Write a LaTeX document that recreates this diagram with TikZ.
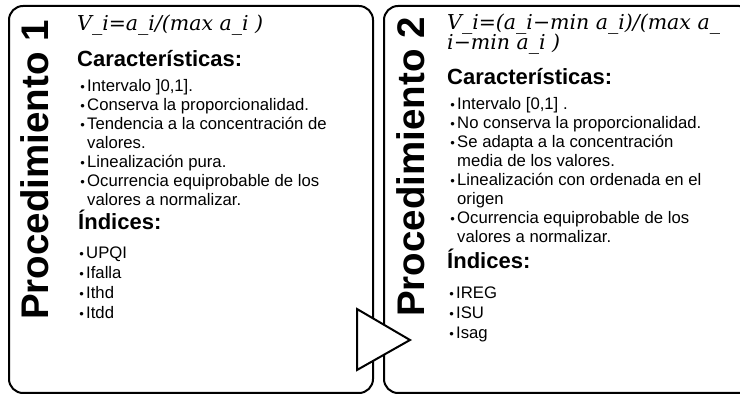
\documentclass[tikz,border=0pt]{standalone}
\usepackage{fontspec}
\setmainfont{Liberation Sans}
\newfontfamily\fser{DejaVu Serif}
\newcommand{\bul}{\llap{\fontsize{13}{13}\selectfont\raisebox{0.3pt}{•}\hspace{2.2pt}}}
\begin{document}
\begin{tikzpicture}[x=1pt,y=-1pt,
  box/.style={draw=black, line width=2pt, rounded corners=14pt},
  vtitle/.style={font=\fontsize{38.5}{38.5}\selectfont\bfseries, rotate=90, anchor=base west, inner sep=0pt},
  formula/.style={font=\fser\itshape\fontsize{20.5}{20.5}\selectfont, anchor=base west, inner sep=0pt},
  head/.style={font=\fontsize{22}{22}\selectfont\bfseries, anchor=base west, inner sep=0pt},
  item/.style={font=\fontsize{16.7}{16.7}\selectfont, anchor=base west, inner sep=0pt},
]
\useasboundingbox (0,0) rectangle (740,395);
\node[box, anchor=north west, minimum width=364pt, minimum height=387pt, inner sep=0pt] (p1) at (8,5) {};
\node[box, anchor=north west, minimum width=369pt, minimum height=387pt, inner sep=0pt] (p2) at (383,5) {};
\draw[draw=black, line width=2pt, fill=white, line join=miter] (357,309) -- (357,370) -- (410,340) -- cycle;
% titles
\node[vtitle] (t1) at (48,320) {Procedimiento 1};
\node[vtitle] (t2) at (424,317) {Procedimiento 2};
% box 1
\node[formula] (f1) at (77,31) {V\_i=a\_i/(max a\_i )};
\node[head] (c1) at (77,67) {Características:};
\node[item] (a1) at (87,92) {\bul Intervalo ]0,1].};
\node[item] (a2) at (87,111) {\bul Conserva la proporcionalidad.};
\node[item] (a3) at (87,130) {\bul Tendencia a la concentración de};
\node[item] (a4) at (87,149) {valores.};
\node[item] (a5) at (87,168) {\bul Linealización pura.};
\node[item] (a6) at (87,187) {\bul Ocurrencia equiprobable de los};
\node[item] (a7) at (87,206) {valores a normalizar.};
\node[head] (i1) at (78,230) {Índices:};
\node[item] (u1) at (86,259) {\bul UPQI};
\node[item] (u2) at (86,279) {\bul Ifalla};
\node[item] (u3) at (86,299) {\bul Ithd};
\node[item] (u4) at (86,319) {\bul Itdd};
% box 2
\node[formula] (f2a) at (447,30) {V\_i=(a\_i−min a\_i)/(max a\_};
\node[formula] (f2b) at (447,50) {i−min a\_i )};
\node[head] (c2) at (447,85) {Características:};
\node[item] (b1) at (457,110) {\bul Intervalo [0,1] .};
\node[item] (b2) at (457,129) {\bul No conserva la proporcionalidad.};
\node[item] (b3) at (457,148) {\bul Se adapta a la concentración};
\node[item] (b4) at (457,167) {media de los valores.};
\node[item] (b5) at (457,186) {\bul Linealización con ordenada en el};
\node[item] (b6) at (457,205) {origen};
\node[item] (b7) at (457,224) {\bul Ocurrencia equiprobable de los};
\node[item] (b8) at (457,243) {valores a normalizar.};
\node[head] (i2) at (447,269) {Índices:};
\node[item] (v1) at (456,299) {\bul IREG};
\node[item] (v2) at (456,319) {\bul ISU};
\node[item] (v3) at (456,339) {\bul Isag};
\end{tikzpicture}
\end{document}
